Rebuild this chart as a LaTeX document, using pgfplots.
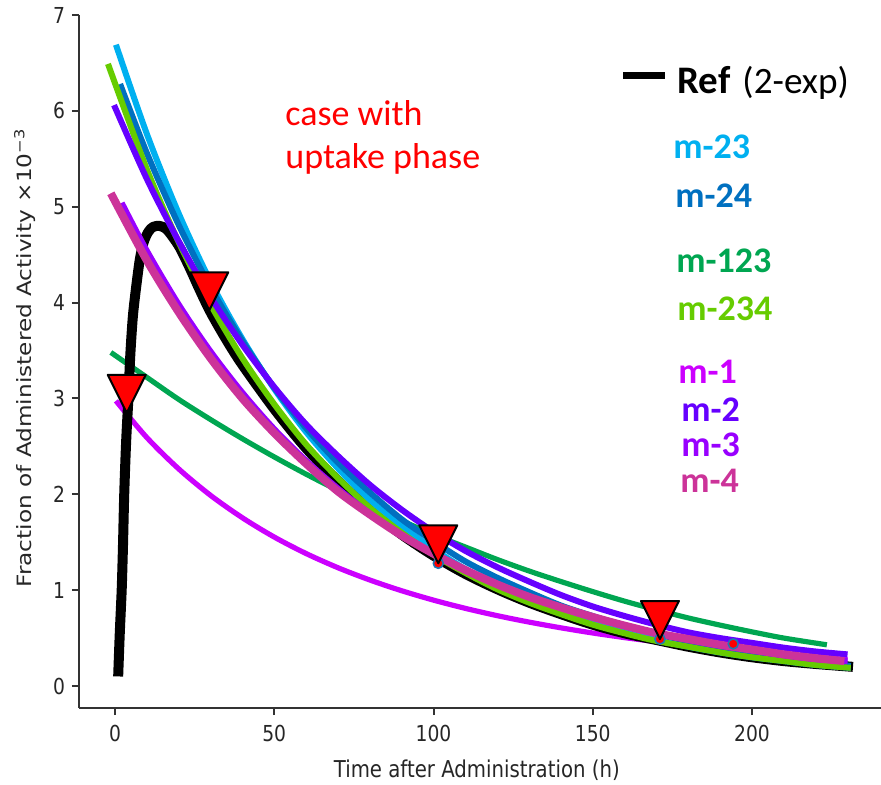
\documentclass[border=0pt]{standalone}
\usepackage{fontspec}
\setmainfont{DejaVu Sans}
\newfontfamily\calibri{Carlito}
\usepackage{graphicx}
\usepackage{pgfplots}
\pgfplotsset{compat=1.18}
\definecolor{cmA}{HTML}{00B0F0}% m-23
\definecolor{cmB}{HTML}{0070C0}% m-24
\definecolor{cmC}{HTML}{00A651}% m-123
\definecolor{cmD}{HTML}{66CC00}% m-234
\definecolor{cmE}{HTML}{CC00FF}% m-1
\definecolor{cmF}{HTML}{6600FF}% m-2
\definecolor{cmG}{HTML}{9900FF}% m-3
\definecolor{cmH}{HTML}{CC3399}% m-4
\definecolor{ptedge}{HTML}{1F77B4}
\pgfdeclareplotmark{vtri}{%
  \pgfpathmoveto{\pgfpointorigin}%
  \pgfpathlineto{\pgfpoint{\pgfplotmarksize}{2\pgfplotmarksize}}%
  \pgfpathlineto{\pgfpoint{-\pgfplotmarksize}{2\pgfplotmarksize}}%
  \pgfpathclose
  \pgfusepathqfillstroke}
\newcommand\sq[1]{\scalebox{0.85}[1]{#1}}
\newcommand\sqv[1]{\scalebox{1}[0.85]{#1}}
\begin{document}
\begin{tikzpicture}
\path[use as bounding box] (-39.5pt,-38pt) rectangle (401pt,354pt);
\begin{axis}[
  at={(0pt,0pt)}, anchor=south west,
  scale only axis, width=401pt, height=346.5pt,
  xmin=-11.3, xmax=240.5, ymin=-0.2295, ymax=7,
  axis x line*=bottom, axis y line*=left,
  axis line style={-, line width=1pt, black!80},
  tick pos=left, tick align=outside, major tick length=3.5pt,
  tick style={line width=1pt, black!80},
  xtick={0,50,100,150,200},
  xticklabels={\sq{0},\sq{50},\sq{100},\sq{150},\sq{200}},
  ytick={0,1,2,3,4,5,6,7},
  yticklabels={\sq{0},\sq{1},\sq{2},\sq{3},\sq{4},\sq{5},\sq{6},\sq{7}},
  ticklabel style={font=\fontsize{11}{13}\selectfont, text=black!85},
  xticklabel style={yshift=-1.5pt},
  xlabel={\sq{Time after Administration (h)}},
  ylabel={\sqv{Fraction of Administered Activity ×10\textsuperscript{−3}}},
  every axis x label/.style={at={(axis description cs:0.496,-0.0996)}, anchor=base,
    font=\fontsize{11.6}{14}\selectfont, text=black!85},
  every axis y label/.style={at={(axis description cs:-0.059,0.505)}, anchor=base, rotate=90,
    font=\fontsize{11.6}{14}\selectfont, text=black!85},
  clip=false,
  every axis plot/.append style={line join=round},
]
% measured data points (partly hidden)
\addplot[only marks, mark=*, mark size=2.5pt, mark options={fill=red, draw=ptedge, line width=0.8pt}]
  coordinates {(101.5,1.28) (171.1,0.49) (194.1,0.44)};
% m-123
\addplot[cmC, line width=2.6pt, smooth] coordinates {
(-1.3,3.48)(10,3.22)(20,2.99)(30,2.78)(40,2.58)(50,2.39)(60,2.21)(70,2.04)(80,1.88)(90,1.725)(100,1.58)(110,1.45)(120,1.32)(130,1.20)(140,1.09)(150,0.985)(160,0.885)(170,0.795)(180,0.71)(190,0.635)(200,0.565)(210,0.50)(223.5,0.43)};
% m-1
\addplot[cmE, line width=2.6pt, smooth] coordinates {
(0.3,2.975)(10,2.592)(20,2.265)(30,1.989)(40,1.755)(50,1.554)(60,1.382)(70,1.234)(80,1.106)(90,0.994)(100,0.896)(110,0.810)(120,0.734)(130,0.667)(140,0.607)(150,0.553)(160,0.505)(170,0.462)(180,0.423)(190,0.388)(200,0.356)(210,0.327)(220,0.301)(230,0.276)};
% Ref (2-exp)
\addplot[black, line width=5pt, smooth] coordinates {
(1.0,0.10)(1.5,0.55)(2.1,1.00)(2.5,1.45)(2.9,2.00)(3.5,2.55)(4.2,3.00)(4.8,3.45)(5.6,3.85)(6.6,4.15)(7.8,4.45)(9.0,4.63)(10.5,4.74)(12,4.79)(14,4.80)(16,4.77)(18,4.69)(20.4,4.57)(23.5,4.36)(26.5,4.14)(30,3.90)(35,3.61)(40,3.35)(50,2.89)(60,2.48)(70,2.14)(80,1.84)(90,1.58)(100,1.36)(110,1.17)(120,1.01)(130,0.87)(140,0.75)(150,0.64)(160,0.55)(170,0.48)(180,0.41)(190,0.35)(200,0.30)(210,0.26)(220,0.23)(231.7,0.20)};
% m-23
\addplot[cmA, line width=3pt, smooth] coordinates {
(0.3,6.69)(10,5.76)(20,4.93)(30,4.22)(40,3.62)(50,3.10)(60,2.65)(70,2.27)(80,1.94)(90,1.67)(100,1.43)(110,1.22)(120,1.05)(130,0.90)(140,0.77)(150,0.66)(160,0.56)(170,0.48)(180,0.41)(190,0.35)(200,0.30)(210,0.26)(220,0.22)(231,0.19)};
% m-24
\addplot[cmB, line width=3pt, smooth] coordinates {
(1.6,6.28)(10,5.56)(20,4.81)(30,4.16)(40,3.60)(50,3.11)(60,2.69)(70,2.33)(80,2.02)(90,1.74)(100,1.51)(110,1.30)(120,1.13)(130,0.98)(140,0.84)(150,0.73)(160,0.63)(170,0.55)(180,0.47)(190,0.41)(200,0.35)(210,0.31)(220,0.26)(231,0.21)};
% m-234
\addplot[cmD, line width=3pt, smooth] coordinates {
(-2.2,6.49)(10,5.39)(20,4.63)(30,3.98)(40,3.42)(50,2.94)(60,2.52)(70,2.17)(80,1.86)(90,1.60)(100,1.37)(110,1.18)(120,1.01)(130,0.87)(140,0.75)(150,0.64)(160,0.55)(170,0.47)(180,0.41)(190,0.35)(200,0.30)(210,0.26)(220,0.22)(231,0.19)};
% m-2
\addplot[cmF, line width=3pt, smooth] coordinates {
(-0.3,6.06)(10,5.29)(20,4.64)(30,4.06)(40,3.56)(50,3.12)(60,2.73)(70,2.40)(80,2.10)(90,1.84)(100,1.61)(110,1.41)(120,1.24)(130,1.09)(140,0.95)(150,0.83)(160,0.73)(170,0.64)(180,0.56)(190,0.50)(200,0.45)(210,0.40)(220,0.36)(230,0.33)};
% m-3
\addplot[cmG, line width=3pt, smooth] coordinates {
(2.1,5.04)(10,4.54)(20,3.98)(30,3.49)(40,3.06)(50,2.68)(60,2.35)(70,2.06)(80,1.80)(90,1.58)(100,1.38)(110,1.21)(120,1.06)(130,0.93)(140,0.82)(150,0.72)(160,0.63)(170,0.55)(180,0.48)(190,0.42)(200,0.37)(210,0.32)(220,0.28)(230,0.26)};
% m-4
\addplot[cmH, line width=4pt, smooth] coordinates {
(-1.3,5.14)(10,4.44)(20,3.90)(30,3.42)(40,3.00)(50,2.64)(60,2.32)(70,2.03)(80,1.79)(90,1.57)(100,1.38)(110,1.21)(120,1.06)(130,0.93)(140,0.82)(150,0.72)(160,0.63)(170,0.55)(180,0.49)(190,0.43)(200,0.38)(210,0.33)(220,0.29)(229,0.26)};
% time points (tips of the triangles)
\addplot[only marks, mark=vtri, mark size=9.5pt, mark options={fill=red, draw=black, line width=1pt}]
  coordinates {(3.7,2.85) (29.6,3.92) (101.5,1.28) (171.1,0.49)};
\end{axis}
% annotations
\node[anchor=base west, inner sep=0, text=red, font=\calibri\fontsize{18}{21}\selectfont] at (103pt,291.5pt) {case with};
\node[anchor=base west, inner sep=0, text=red, font=\calibri\fontsize{18}{21}\selectfont] at (103pt,270pt) {uptake phase};
% legend
\draw[line width=3.5pt] (272pt,316.5pt) -- (293pt,316.5pt);
\node[anchor=base west, inner sep=0] at (299pt,307.5pt) {{\calibri\bfseries\fontsize{19.5}{22}\selectfont Ref}\hspace{6pt}{\calibri\fontsize{18.6}{22}\selectfont (2-exp)}};
\begin{scope}[every node/.style={anchor=base west, inner sep=0, font=\calibri\bfseries\fontsize{18}{21}\selectfont}]
\node[text=cmA] at (297pt,275pt) {m-23};
\node[text=cmB] at (298pt,250.5pt) {m-24};
\node[text=cmC] at (298.5pt,218pt) {m-123};
\node[text=cmD] at (299pt,194pt) {m-234};
\node[text=cmE] at (299.5pt,162.5pt) {m-1};
\node[text=cmF] at (301pt,143.5pt) {m-2};
\node[text=cmG] at (301pt,126pt) {m-3};
\node[text=cmH] at (300.5pt,108pt) {m-4};
\end{scope}
\end{tikzpicture}
\end{document}
